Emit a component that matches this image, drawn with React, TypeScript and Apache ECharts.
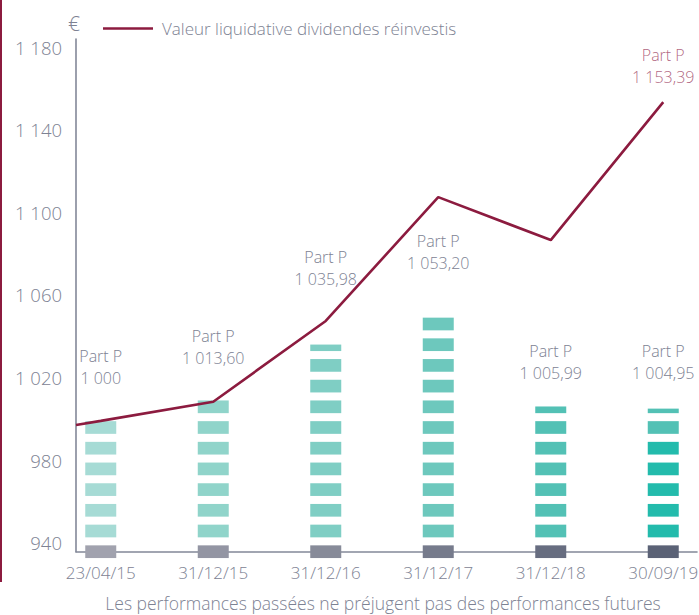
import React, { useEffect, useRef } from "react";
import * as echarts from "echarts";

// ---- data ----
const CATEGORIES = ["23/04/15", "31/12/15", "31/12/16", "31/12/17", "31/12/18", "30/09/19"];
const PART_P_VALUES = [1000, 1013.6, 1035.98, 1053.2, 1005.99, 1004.95];
const LINE_NAME = "Valeur liquidative dividendes réinvestis";
const LINE_START = 997; // value where the line meets the left axis
const LINE_VALUES = [999, 1008.3, 1047.4, 1107.4, 1086.6, 1153.39];
const Y_TICKS = [940, 980, 1020, 1060, 1100, 1140, 1180];
const ACCENT_UPTO = [null, null, null, null, null, 989];

// ---- layout / style ----
const X_MIN = -0.22;
const X_MAX = 5.3;
const Y_MIN = 935.64;
const Y_MAX = 1184;
const TEALS = ["#a6dbd5", "#90d4ca", "#7fcec4", "#6dc8bd", "#53c1b5", "#53c1b5"];
const ACCENT_TEAL = "#23bbac";
const GRAYS = ["#a1a2ae", "#9395a3", "#878b99", "#767b8c", "#676d80", "#5b6276"];
const LABEL_LIFT = [52, 44, 76.5, 57, 44.5, 46.6];
const CRIMSON = "#8c1b3f";
const TEXT = "#7d8293";
const FONT = "Open Sans";

const fmtFr = (v: number, dec: boolean) => {
  const fixed = dec ? v.toFixed(2) : String(Math.round(v));
  const [ip, dp] = fixed.split(".");
  const withSp = ip.replace(/\B(?=(\d{3})+(?!\d))/g, " ");
  return dp ? `${withSp},${dp}` : withSp;
};

export default function App() {
  const ref = useRef<HTMLDivElement>(null);
  useEffect(() => {
    document.body.style.margin = "0";
    const chart = echarts.init(ref.current!, null, { renderer: "svg" });
    const DASH = 12.7;
    const GAP = 8;
    const BW = 31;
    const option: any = {
      animation: false,
      grid: { left: 76, right: 2, top: 39, bottom: 63.3, containLabel: false, outerBoundsMode: "none" },
      legend: {
        data: [LINE_NAME],
        left: 98,
        top: 15,
        icon: "rect",
        itemWidth: 50,
        itemHeight: 2.5,
        textStyle: { fontSize: 17, color: TEXT, fontFamily: FONT, fontWeight: 300, padding: [0, 0, 0, 4] },
      },
      xAxis: {
        type: "value",
        min: X_MIN,
        max: X_MAX,
        splitLine: { show: false },
        axisTick: { show: false },
        axisLine: { show: true, onZero: false, lineStyle: { color: "#838898", width: 1.6 } },
        axisLabel: {
          customValues: CATEGORIES.map((_, i) => i),
          formatter: (v: number) => CATEGORIES[Math.round(v)] ?? "",
          color: TEXT,
          fontSize: 17,
          fontFamily: FONT,
          fontWeight: 300,
          margin: 12,
        },
      },
      yAxis: {
        type: "value",
        min: Y_MIN,
        max: Y_MAX,
        name: "€",
        nameLocation: "end",
        nameGap: 6,
        nameTextStyle: { fontSize: 21, color: TEXT, fontFamily: FONT, fontWeight: 300, padding: [0, 4, 0, 0] },
        splitLine: { show: false },
        axisTick: { show: false },
        axisLine: { show: true, onZero: false, lineStyle: { color: "#838898", width: 1.6 } },
        axisLabel: {
          customValues: Y_TICKS,
          formatter: (v: number) => fmtFr(v, false),
          color: TEXT,
          fontSize: 18.5,
          fontFamily: FONT,
          fontWeight: 300,
          margin: 14,
        },
      },
      series: [
        {
          type: "custom",
          name: "Part P",
          clip: false,
          z: 1,
          encode: { x: 0, y: 1 },
          data: PART_P_VALUES.map((v, i) => [i, v]),
          renderItem: (params: any, api: any) => {
            const idx = params.dataIndex;
            const i = api.value(0);
            const v = api.value(1);
            const [cx, yBase] = api.coord([i, Y_MIN]);
            const yTop = api.coord([i, v])[1];
            const acc = ACCENT_UPTO[idx];
            const yAcc = acc == null ? Infinity : api.coord([i, acc])[1];
            const children: any[] = [];
            children.push({
              type: "rect",
              shape: { x: cx - BW / 2, y: yBase - DASH / 2, width: BW, height: DASH },
              style: { fill: GRAYS[idx] },
            });
            let bottom = yBase - DASH / 2 - GAP;
            while (bottom - yTop > 2) {
              const top = Math.max(bottom - DASH, yTop);
              const fill = top >= yAcc - 0.5 ? ACCENT_TEAL : TEALS[idx];
              children.push({
                type: "rect",
                shape: { x: cx - BW / 2, y: top, width: BW, height: bottom - top },
                style: { fill },
              });
              bottom -= DASH + GAP;
            }
            children.push({
              type: "text",
              x: cx,
              y: yTop - LABEL_LIFT[idx],
              style: {
                text: `Part P\n${fmtFr(v, Math.round(v) !== v)}`,
                fill: TEXT,
                fontSize: 16,
                fontFamily: FONT,
                fontWeight: 300,
                lineHeight: 22,
                align: "center",
                verticalAlign: "middle",
              },
            });
            return { type: "group", children };
          },
        },
        {
          type: "line",
          name: LINE_NAME,
          z: 3,
          color: CRIMSON,
          symbol: "none",
          lineStyle: { width: 2.6, color: CRIMSON },
          data: [[X_MIN, LINE_START], ...LINE_VALUES.map((v, i) => [i, v])],
        },
        {
          type: "scatter",
          name: "end",
          z: 4,
          silent: true,
          symbolSize: 2,
          itemStyle: { color: "rgba(0,0,0,0)" },
          data: [[LINE_VALUES.length - 1, LINE_VALUES[LINE_VALUES.length - 1]]],
          label: {
            show: true,
            position: "top",
            distance: 12.7,
            formatter: () => `Part P\n${fmtFr(LINE_VALUES[LINE_VALUES.length - 1], true)}`,
            color: "#9c3c60",
            fontSize: 16,
            fontFamily: FONT,
            fontWeight: 300,
            lineHeight: 22,
          },
        },
      ],
      graphic: [
        {
          type: "rect",
          shape: { x: 0, y: 0, width: 2, height: 582 },
          style: { fill: CRIMSON },
          silent: true,
        },
        {
          type: "text",
          x: 383,
          y: 603,
          silent: true,
          style: {
            text: "Les performances passées ne préjugent pas des performances futures",
            fill: TEXT,
            fontSize: 17.5,
            fontFamily: FONT,
            fontWeight: 300,
            align: "center",
            verticalAlign: "middle",
            textAlign: "center",
            textVerticalAlign: "middle",
          },
        },
      ],
    };
    chart.setOption(option);
    return () => chart.dispose();
  }, []);
  return <div ref={ref} style={{ width: 699, height: 615 }} />;
}
